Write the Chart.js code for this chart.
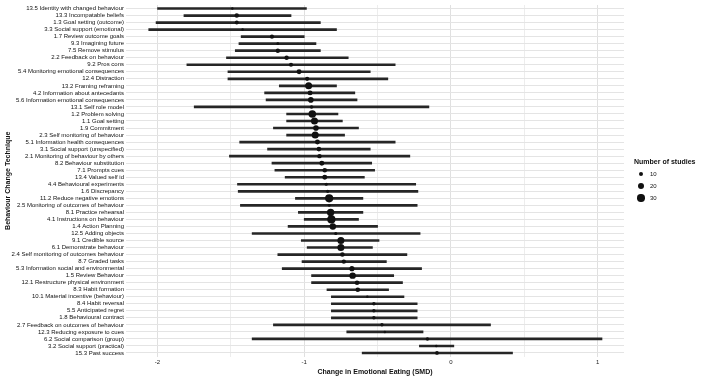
<!DOCTYPE html>
<html><head><meta charset="utf-8">
<script src="https://cdn.jsdelivr.net/npm/chart.js@4/dist/chart.umd.min.js"></script>
<style>
html,body{margin:0;padding:0;background:#fff;}
#wrap{position:relative;width:702px;height:381px;}
#legend{position:absolute;left:634px;top:157px;font-family:"Liberation Sans",Arial,sans-serif;color:#111;}
#legend .t{font-weight:bold;font-size:7px;line-height:9px;margin-bottom:2px;white-space:nowrap;}
#legend .it{position:relative;height:12px;}
#legend .dot{position:absolute;background:#111;border-radius:50%;}
#legend .lb{position:absolute;left:16px;font-size:6px;line-height:12px;top:0;}
</style></head><body>
<div id="wrap"><canvas id="c" width="702" height="381"></canvas><div id="legend"></div></div>
<script>
const categories = [
"13.5 Identity with changed behaviour","13.3 Incompatable beliefs","1.3 Goal setting (outcome)","3.3 Social support (emotional)",
"1.7 Review outcome goals","9.3 Imagining future","7.5 Remove stimulus","2.2 Feedback on behaviour","9.2 Pros cons",
"5.4 Monitoring emotional consequences","12.4 Distraction","13.2 Framing reframing","4.2 Information about antecedants",
"5.6 Information emotional consequences","13.1 Self role model","1.2 Problem solving","1.1 Goal setting","1.9 Commitment",
"2.3 Self monitoring of behaviour","5.1 Information health consequences","3.1 Social support (unspecified)",
"2.1 Monitoring of behaviour by others","8.2 Behaviour substitution","7.1 Prompts cues","13.4 Valued self id",
"4.4 Behavioural experiments","1.6 Discrepancy","11.2 Reduce negative emotions","2.5 Monitoring of outcomes of behaviour",
"8.1 Practice rehearsal","4.1 Instructions on behaviour","1.4 Action Planning","12.5 Adding objects","9.1 Credible source",
"6.1 Demonstrate behaviour","2.4 Self monitoring of outcomes behaviour","8.7 Graded tasks","5.3 Information social and environmental",
"1.5 Review Behaviour","12.1 Restructure physical environment","8.3 Habit formation","10.1 Material incentive (behaviour)",
"8.4 Habit reversal","5.5 Anticipated regret","1.8 Behavioural contract","2.7 Feedback on outcomes of behaviour",
"12.3 Reducing exposure to cues","6.2 Social comparison (group)","3.2 Social support (practical)","15.3 Past success"];
const estimate = [-1.49,-1.46,-1.46,-1.42,-1.22,-1.18,-1.18,-1.12,-1.09,-1.035,-0.98,-0.97,-0.96,-0.955,-0.95,-0.945,-0.93,-0.92,-0.925,-0.91,
-0.90,-0.896,-0.88,-0.86,-0.86,-0.85,-0.84,-0.83,-0.83,-0.82,-0.815,-0.805,-0.785,-0.75,-0.75,-0.74,-0.73,-0.675,-0.67,-0.64,
-0.635,-0.57,-0.525,-0.525,-0.525,-0.47,-0.45,-0.16,-0.10,-0.095];
const lower = [-2.00,-1.82,-2.01,-2.06,-1.43,-1.445,-1.47,-1.53,-1.80,-1.52,-1.52,-1.17,-1.27,-1.26,-1.75,-1.12,-1.12,-1.21,-1.12,-1.44,
-1.25,-1.51,-1.22,-1.20,-1.13,-1.455,-1.45,-1.06,-1.435,-1.04,-1.00,-1.11,-1.355,-1.02,-0.98,-1.18,-1.015,-1.15,-0.95,-0.95,
-0.845,-0.815,-0.815,-0.815,-0.815,-1.21,-0.71,-1.355,-0.215,-0.605];
const upper = [-0.985,-1.09,-0.89,-0.78,-1.00,-0.92,-0.89,-0.70,-0.38,-0.55,-0.43,-0.78,-0.655,-0.64,-0.15,-0.77,-0.74,-0.63,-0.725,-0.38,
-0.55,-0.28,-0.54,-0.52,-0.59,-0.24,-0.225,-0.60,-0.23,-0.60,-0.63,-0.50,-0.21,-0.49,-0.535,-0.30,-0.44,-0.20,-0.39,-0.33,
-0.425,-0.32,-0.23,-0.23,-0.23,0.27,-0.19,1.03,0.02,0.42];
const studies = [2,9,7,2,8,3,9,9,8,12,8,27,12,16,5,32,27,16,27,12,10,9,12,10,12,4,4,38,3,30,38,22,4,27,27,10,9,13,22,10,10,2,5,5,5,5,2,5,2,6];
const xTickLabels = [-2,-1,0,1];
const legendSizes = [10,20,30];

function radiusFor(n){ return 0.4 + 0.6*Math.sqrt(n); }
const FONT = '"Liberation Sans", Arial, sans-serif';

const ctx = document.getElementById('c').getContext('2d');
new Chart(ctx, {
  type: 'bar',
  data: {
    labels: categories,
    datasets: [
      {
        type: 'bar', indexAxis: 'y', xAxisID: 'x', yAxisID: 'y',
        data: categories.map((c,i)=>[lower[i], upper[i]]),
        backgroundColor: '#262626', borderWidth: 0, borderSkipped: false,
        barThickness: 2, order: 2
      },
      {
        type: 'scatter', xAxisID: 'x', yAxisID: 'y',
        data: categories.map((c,i)=>({x: estimate[i], y: c})),
        pointRadius: c => radiusFor(studies[c.dataIndex]),
        pointHoverRadius: c => radiusFor(studies[c.dataIndex]),
        pointBackgroundColor: '#111', pointBorderWidth: 0, showLine: false, order: 1
      }
    ]
  },
  options: {
    indexAxis: 'y',
    responsive: false, animation: false, devicePixelRatio: 1,
    layout: { padding: { top: 3.5, right: 78, bottom: 0, left: 0 } },
    plugins: { legend: { display: false }, tooltip: { enabled: false } },
    scales: {
      x: {
        type: 'linear', min: -2.215, max: 1.18, offset: false,
        afterFit: s => { s.height = 24.5; },
        border: { display: false },
        grid: {
          offset: false,
          drawTicks: false,
          color: c => {
            const v = c.tick ? c.tick.value : 0;
            if (Math.abs(v*2 - Math.round(v*2)) > 1e-6) return 'rgba(0,0,0,0)';
            return Number.isInteger(v) ? '#e0e0e0' : '#ededed';
          },
          lineWidth: 1
        },
        ticks: {
          stepSize: 0.5, includeBounds: false, padding: 2.5, color: '#222', autoSkip: false, maxRotation: 0,
          font: { family: FONT, size: 6 },
          callback: v => xTickLabels.includes(v) ? String(v) : ''
        },
        title: { display: true, text: 'Change in Emotional Eating (SMD)', color: '#111',
                 font: { family: FONT, size: 7, weight: 'bold' }, padding: { top: 1, bottom: 5 } }
      },
      y: {
        type: 'category', labels: categories, offset: true,
        afterFit: s => { s.width = 126; },
        border: { display: false },
        grid: { offset: false, drawTicks: false, color: '#e4e4e4', lineWidth: 1 },
        ticks: { autoSkip: false, padding: 2, color: '#111', font: { family: FONT, size: 6, lineHeight: 1 } },
        title: { display: true, text: 'Behaviour Change Technique', color: '#111',
                 font: { family: FONT, size: 7, weight: 'bold' }, padding: { top: 4, bottom: 0 } }
      }
    }
  }
});

const lg = document.getElementById('legend');
let html = '<div class="t">Number of studies</div>';
legendSizes.forEach(n => {
  const r = radiusFor(n);
  html += '<div class="it"><div class="dot" style="width:'+(2*r)+'px;height:'+(2*r)+'px;left:'+(7-r)+'px;top:'+(6-r)+'px"></div><div class="lb">'+n+'</div></div>';
});
lg.innerHTML = html;
</script>
</body></html>
